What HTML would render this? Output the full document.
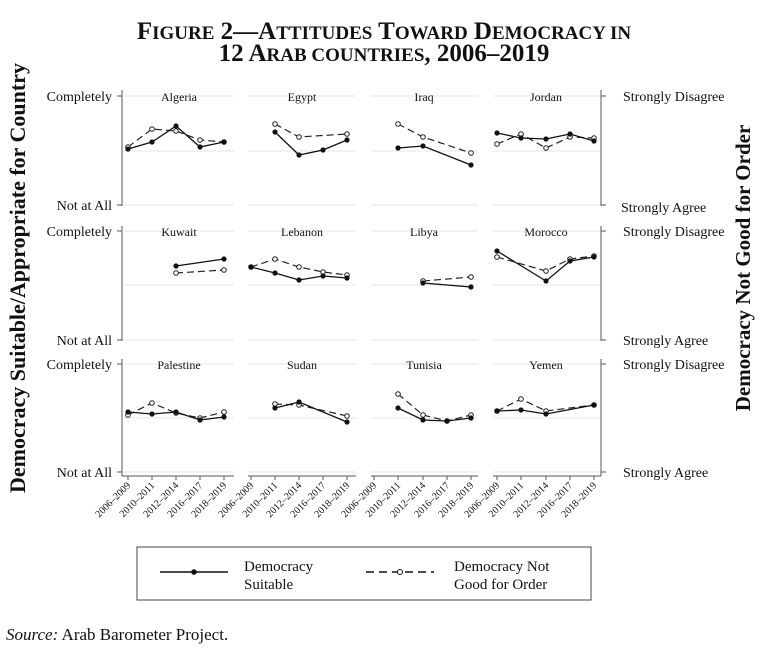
<!DOCTYPE html>
<html><head><meta charset="utf-8"><style>
html,body{margin:0;padding:0;background:#fff;}
svg{display:block;font-family:"Liberation Serif",serif;}
</style></head><body>
<svg width="768" height="655" viewBox="0 0 768 655" xmlns="http://www.w3.org/2000/svg">
<g font-weight="bold" text-anchor="middle" fill="#111">
<text x="384" y="39" font-size="25">F<tspan font-size="19">IGURE</tspan> 2—A<tspan font-size="19">TTITUDES</tspan> T<tspan font-size="19">OWARD</tspan> D<tspan font-size="19">EMOCRACY IN</tspan></text>
<text x="384" y="61" font-size="25">12 A<tspan font-size="19">RAB COUNTRIES</tspan>, 2006–2019</text>
</g>
<g font-size="21" font-weight="bold" text-anchor="middle" fill="#111">
<text transform="translate(25,278) rotate(-90)" font-size="22">Democracy Suitable/Appropriate for Country</text>
<text transform="translate(750,268) rotate(-90)">Democracy Not Good for Order</text>
</g>
<g id="grid" stroke="#e4e4e4" stroke-width="1">
<line x1="124" x2="234" y1="96" y2="96"/><line x1="248" x2="356" y1="96" y2="96"/><line x1="371" x2="478" y1="96" y2="96"/><line x1="493" x2="600" y1="96" y2="96"/>
<line x1="124" x2="234" y1="151" y2="151"/><line x1="248" x2="356" y1="151" y2="151"/><line x1="371" x2="478" y1="151" y2="151"/><line x1="493" x2="600" y1="151" y2="151"/>
<line x1="124" x2="234" y1="205" y2="205"/><line x1="248" x2="356" y1="205" y2="205"/><line x1="371" x2="478" y1="205" y2="205"/><line x1="493" x2="600" y1="205" y2="205"/>
<line x1="124" x2="234" y1="231" y2="231"/><line x1="248" x2="356" y1="231" y2="231"/><line x1="371" x2="478" y1="231" y2="231"/><line x1="493" x2="600" y1="231" y2="231"/>
<line x1="124" x2="234" y1="285" y2="285"/><line x1="248" x2="356" y1="285" y2="285"/><line x1="371" x2="478" y1="285" y2="285"/><line x1="493" x2="600" y1="285" y2="285"/>
<line x1="124" x2="234" y1="340" y2="340"/><line x1="248" x2="356" y1="340" y2="340"/><line x1="371" x2="478" y1="340" y2="340"/><line x1="493" x2="600" y1="340" y2="340"/>
<line x1="124" x2="234" y1="364" y2="364"/><line x1="248" x2="356" y1="364" y2="364"/><line x1="371" x2="478" y1="364" y2="364"/><line x1="493" x2="600" y1="364" y2="364"/>
<line x1="124" x2="234" y1="418" y2="418"/><line x1="248" x2="356" y1="418" y2="418"/><line x1="371" x2="478" y1="418" y2="418"/><line x1="493" x2="600" y1="418" y2="418"/>
<line x1="124" x2="234" y1="472" y2="472"/><line x1="248" x2="356" y1="472" y2="472"/><line x1="371" x2="478" y1="472" y2="472"/><line x1="493" x2="600" y1="472" y2="472"/>
</g>
<g stroke="#555" stroke-width="1" fill="none">
<path d="M122 90V206M117 96H122M117 205H122"/>
<path d="M122 226V341M117 231H122M117 340H122"/>
<path d="M122 359V476M117 364H122M117 472H122"/>
<path d="M601 90V206M601 96H606M601 205H606"/>
<path d="M601 226V341M601 231H606M601 340H606"/>
<path d="M601 359V476M601 364H606M601 472H606"/>
<path d="M122 476H234M248 476H356M371 476H478M493 476H601"/>
<path d="M128 476v4M152 476v4M176 476v4M200 476v4M224 476v4M251 476v4M275 476v4M299 476v4M323 476v4M347 476v4M374 476v4M398 476v4M423 476v4M447 476v4M471 476v4M497 476v4M521 476v4M546 476v4M570 476v4M594 476v4"/>
</g>
<g font-size="14" fill="#111" text-anchor="end">
<text x="112" y="101">Completely</text><text x="112" y="210">Not at All</text>
<text x="112" y="236">Completely</text><text x="112" y="345">Not at All</text>
<text x="112" y="369">Completely</text><text x="112" y="477">Not at All</text>
</g>
<g font-size="14" fill="#111" text-anchor="start">
<text x="623" y="101">Strongly Disagree</text><text x="621" y="212">Strongly Agree</text>
<text x="623" y="236">Strongly Disagree</text><text x="623" y="345">Strongly Agree</text>
<text x="623" y="369">Strongly Disagree</text><text x="623" y="477">Strongly Agree</text>
</g>
<g font-size="12" fill="#111" text-anchor="middle">
<text x="179" y="101">Algeria</text><text x="302" y="101">Egypt</text><text x="424" y="101">Iraq</text><text x="546" y="101">Jordan</text>
<text x="179" y="236">Kuwait</text><text x="302" y="236">Lebanon</text><text x="424" y="236">Libya</text><text x="546" y="236">Morocco</text>
<text x="179" y="369">Palestine</text><text x="302" y="369">Sudan</text><text x="424" y="369">Tunisia</text><text x="546" y="369">Yemen</text>
</g>
<g font-size="10" fill="#111" text-anchor="end">
<text transform="translate(131,486) rotate(-45)">2006–2009</text><text transform="translate(155,486) rotate(-45)">2010–2011</text><text transform="translate(179,486) rotate(-45)">2012–2014</text><text transform="translate(203,486) rotate(-45)">2016–2017</text><text transform="translate(227,486) rotate(-45)">2018–2019</text>
<text transform="translate(254,486) rotate(-45)">2006–2009</text><text transform="translate(278,486) rotate(-45)">2010–2011</text><text transform="translate(302,486) rotate(-45)">2012–2014</text><text transform="translate(326,486) rotate(-45)">2016–2017</text><text transform="translate(350,486) rotate(-45)">2018–2019</text>
<text transform="translate(377,486) rotate(-45)">2006–2009</text><text transform="translate(401,486) rotate(-45)">2010–2011</text><text transform="translate(426,486) rotate(-45)">2012–2014</text><text transform="translate(450,486) rotate(-45)">2016–2017</text><text transform="translate(474,486) rotate(-45)">2018–2019</text>
<text transform="translate(500,486) rotate(-45)">2006–2009</text><text transform="translate(524,486) rotate(-45)">2010–2011</text><text transform="translate(549,486) rotate(-45)">2012–2014</text><text transform="translate(573,486) rotate(-45)">2016–2017</text><text transform="translate(597,486) rotate(-45)">2018–2019</text>
</g>
<g stroke="#222" stroke-width="1.2" fill="none" stroke-dasharray="7,4">
<polyline points="128,147 152,129 176,131 200,140 224,142"/>
<polyline points="275,124 299,137 347,134"/>
<polyline points="398,124 423,137 471,153"/>
<polyline points="497,144 521,134 546,148 570,137 594,138"/>
<polyline points="176,273 224,270"/>
<polyline points="251,267 275,259 299,267 323,272 347,275"/>
<polyline points="423,281 471,277"/>
<polyline points="497,257 546,271 570,259 594,256"/>
<polyline points="128,415 152,403 176,413 200,418 224,412"/>
<polyline points="275,404 299,405 347,416"/>
<polyline points="398,394 423,415 447,421 471,415"/>
<polyline points="497,411 521,399 546,411 594,405"/>
</g>
<g stroke="#222" stroke-width="1" fill="#fff">
<circle cx="128" cy="147" r="2.3"/><circle cx="152" cy="129" r="2.3"/><circle cx="176" cy="131" r="2.3"/><circle cx="200" cy="140" r="2.3"/><circle cx="224" cy="142" r="2.3"/>
<circle cx="275" cy="124" r="2.3"/><circle cx="299" cy="137" r="2.3"/><circle cx="347" cy="134" r="2.3"/>
<circle cx="398" cy="124" r="2.3"/><circle cx="423" cy="137" r="2.3"/><circle cx="471" cy="153" r="2.3"/>
<circle cx="497" cy="144" r="2.3"/><circle cx="521" cy="134" r="2.3"/><circle cx="546" cy="148" r="2.3"/><circle cx="570" cy="137" r="2.3"/><circle cx="594" cy="138" r="2.3"/>
<circle cx="176" cy="273" r="2.3"/><circle cx="224" cy="270" r="2.3"/>
<circle cx="251" cy="267" r="2.3"/><circle cx="275" cy="259" r="2.3"/><circle cx="299" cy="267" r="2.3"/><circle cx="323" cy="272" r="2.3"/><circle cx="347" cy="275" r="2.3"/>
<circle cx="423" cy="281" r="2.3"/><circle cx="471" cy="277" r="2.3"/>
<circle cx="497" cy="257" r="2.3"/><circle cx="546" cy="271" r="2.3"/><circle cx="570" cy="259" r="2.3"/><circle cx="594" cy="256" r="2.3"/>
<circle cx="128" cy="415" r="2.3"/><circle cx="152" cy="403" r="2.3"/><circle cx="176" cy="413" r="2.3"/><circle cx="200" cy="418" r="2.3"/><circle cx="224" cy="412" r="2.3"/>
<circle cx="275" cy="404" r="2.3"/><circle cx="299" cy="405" r="2.3"/><circle cx="347" cy="416" r="2.3"/>
<circle cx="398" cy="394" r="2.3"/><circle cx="423" cy="415" r="2.3"/><circle cx="447" cy="421" r="2.3"/><circle cx="471" cy="415" r="2.3"/>
<circle cx="497" cy="411" r="2.3"/><circle cx="521" cy="399" r="2.3"/><circle cx="546" cy="411" r="2.3"/><circle cx="594" cy="405" r="2.3"/>
</g>
<g stroke="#111" stroke-width="1.3" fill="none">
<polyline points="128,149 152,142 176,126 200,147 224,142"/>
<polyline points="275,132 299,155 323,150 347,140"/>
<polyline points="398,148 423,146 471,165"/>
<polyline points="497,133 521,138 546,139 570,134 594,141"/>
<polyline points="176,266 224,259"/>
<polyline points="251,267 275,273 299,280 323,276 347,278"/>
<polyline points="423,283 471,287"/>
<polyline points="497,251 546,281 570,261 594,257"/>
<polyline points="128,412 152,414 176,412 200,420 224,417"/>
<polyline points="275,408 299,402 347,422"/>
<polyline points="398,408 423,420 447,421 471,418"/>
<polyline points="497,411 521,410 546,414 594,405"/>
</g>
<g fill="#111">
<circle cx="128" cy="149" r="2.6"/><circle cx="152" cy="142" r="2.6"/><circle cx="176" cy="126" r="2.6"/><circle cx="200" cy="147" r="2.6"/><circle cx="224" cy="142" r="2.6"/>
<circle cx="275" cy="132" r="2.6"/><circle cx="299" cy="155" r="2.6"/><circle cx="323" cy="150" r="2.6"/><circle cx="347" cy="140" r="2.6"/>
<circle cx="398" cy="148" r="2.6"/><circle cx="423" cy="146" r="2.6"/><circle cx="471" cy="165" r="2.6"/>
<circle cx="497" cy="133" r="2.6"/><circle cx="521" cy="138" r="2.6"/><circle cx="546" cy="139" r="2.6"/><circle cx="570" cy="134" r="2.6"/><circle cx="594" cy="141" r="2.6"/>
<circle cx="176" cy="266" r="2.6"/><circle cx="224" cy="259" r="2.6"/>
<circle cx="251" cy="267" r="2.6"/><circle cx="275" cy="273" r="2.6"/><circle cx="299" cy="280" r="2.6"/><circle cx="323" cy="276" r="2.6"/><circle cx="347" cy="278" r="2.6"/>
<circle cx="423" cy="283" r="2.6"/><circle cx="471" cy="287" r="2.6"/>
<circle cx="497" cy="251" r="2.6"/><circle cx="546" cy="281" r="2.6"/><circle cx="570" cy="261" r="2.6"/><circle cx="594" cy="257" r="2.6"/>
<circle cx="128" cy="412" r="2.6"/><circle cx="152" cy="414" r="2.6"/><circle cx="176" cy="412" r="2.6"/><circle cx="200" cy="420" r="2.6"/><circle cx="224" cy="417" r="2.6"/>
<circle cx="275" cy="408" r="2.6"/><circle cx="299" cy="402" r="2.6"/><circle cx="347" cy="422" r="2.6"/>
<circle cx="398" cy="408" r="2.6"/><circle cx="423" cy="420" r="2.6"/><circle cx="447" cy="421" r="2.6"/><circle cx="471" cy="418" r="2.6"/>
<circle cx="497" cy="411" r="2.6"/><circle cx="521" cy="410" r="2.6"/><circle cx="546" cy="414" r="2.6"/><circle cx="594" cy="405" r="2.6"/>
</g>
<rect x="137" y="547" width="454" height="53" fill="none" stroke="#444" stroke-width="1"/>
<line x1="160" x2="228" y1="572" y2="572" stroke="#111" stroke-width="1.4"/>
<circle cx="194" cy="572" r="2.8" fill="#111"/>
<line x1="366" x2="434" y1="572" y2="572" stroke="#111" stroke-width="1.4" stroke-dasharray="8,5"/>
<circle cx="400" cy="572" r="2.5" fill="#fff" stroke="#111"/>
<g font-size="15" fill="#111">
<text x="244" y="571">Democracy</text><text x="244" y="589">Suitable</text>
<text x="454" y="571">Democracy Not</text><text x="454" y="589">Good for Order</text>
</g>
<text x="6" y="640" font-size="17" fill="#111"><tspan font-style="italic">Source:</tspan> Arab Barometer Project.</text>
</svg>
</body></html>
